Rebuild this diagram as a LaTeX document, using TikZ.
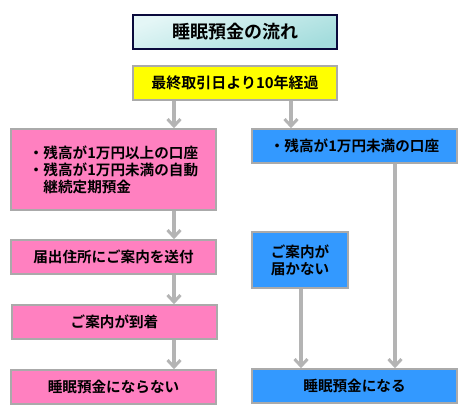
\documentclass[tikz,border=0pt]{standalone}
\usepackage{fontspec}
\setmainfont{Noto Sans CJK JP}[BoldFont={Noto Sans CJK JP Bold}]
\usetikzlibrary{arrows.meta}
\definecolor{pinkc}{HTML}{FF80C0}
\definecolor{bluec}{HTML}{3399FF}
\definecolor{yellowc}{HTML}{FFFF00}
\definecolor{bordergray}{HTML}{AAAAAA}
\definecolor{arrgray}{HTML}{B4B4B4}
\definecolor{navy}{HTML}{0A0A3C}
\definecolor{tealtop}{HTML}{E4F6F6}
\definecolor{tealbot}{HTML}{A4DDDD}
\tikzset{
  box/.style={draw=bordergray, line width=1.5pt, rectangle, inner sep=0pt,
    font=\bfseries\fontsize{14.6}{17}\selectfont, text=black},
  pinkbox/.style={box, fill=pinkc, minimum width=205pt, minimum height=34pt},
  bluebox/.style={box, fill=bluec, minimum width=205pt, minimum height=34pt},
  titlebox/.style={draw=navy, line width=1.5pt, rectangle, inner sep=0pt,
    minimum width=204pt, minimum height=34pt,
    shading=axis, top color=tealtop, bottom color=tealbot, shading angle=20,
    font=\bfseries\fontsize{18}{20}\selectfont},
  arr/.style={draw=arrgray, line width=3.5pt,
    -{Straight Barb[length=7pt,width=13pt,line width=3pt]}}
}
\begin{document}
\begin{tikzpicture}[x=1pt,y=-1pt]
\useasboundingbox (0,0) rectangle (471,407);
\node[titlebox] (title) at (235,32) {睡眠預金の流れ};
\node[box, fill=yellowc, minimum width=204pt, minimum height=34pt, font=\bfseries\fontsize{15}{17}\selectfont] (y) at (235,83) {最終取引日より10年経過};
\node[pinkbox, minimum height=81pt, align=left] (p1) at (113.5,169.5) {・残高が1万円以上の口座\\・残高が1万円未満の自動\\\hspace*{1em}継続定期預金};
\node[bluebox] (b1) at (354.5,146) {・残高が1万円未満の口座};
\node[pinkbox] (p2) at (113.5,257) {届出住所にご案内を送付};
\node[pinkbox] (p3) at (114.5,322) {ご案内が到着};
\node[pinkbox] (p4) at (113.5,387) {睡眠預金にならない};
\node[box, fill=bluec, minimum width=96pt, minimum height=56pt, align=center] (b2) at (300,260) {ご案内が\\届かない};
\node[bluebox] (b3) at (354.5,386) {睡眠預金になる};
\coordinate (cL) at (174,0);
\coordinate (cR) at (291,0);
\coordinate (cB2) at (301,0);
\coordinate (cB1) at (395,0);
\draw[arr] (y.south -| cL) -- (p1.north -| cL);
\draw[arr] (y.south -| cR) -- (b1.north -| cR);
\draw[arr] (p1.south -| cL) -- (p2.north -| cL);
\draw[arr] (p2.south -| cL) -- (p3.north -| cL);
\draw[arr] (p3.south -| cL) -- (p4.north -| cL);
\draw[arr] (b2.south -| cB2) -- (b3.north -| cB2);
\draw[arr] (b1.south -| cB1) -- (b3.north -| cB1);
\end{tikzpicture}
\end{document}
